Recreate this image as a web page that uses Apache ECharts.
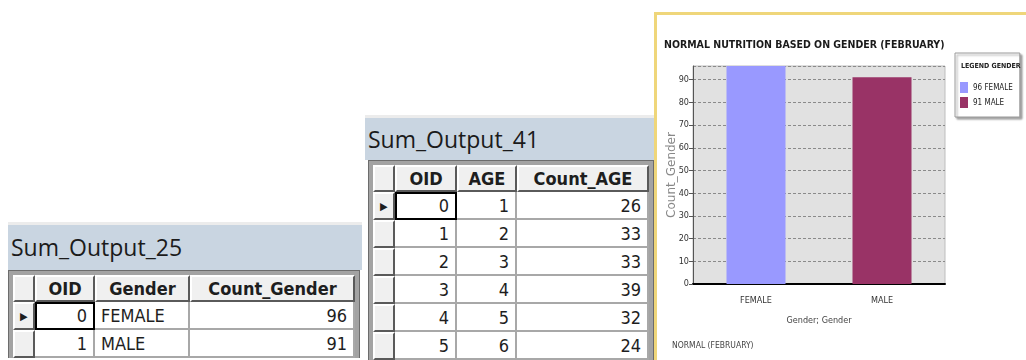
<!DOCTYPE html>
<html>
<head>
<meta charset="utf-8">
<script src="https://cdn.jsdelivr.net/npm/echarts@6/dist/echarts.min.js"></script>
<style>
html, body { margin: 0; padding: 0; width: 1026px; height: 360px; overflow: hidden; background: #fff; }
.tbl { position: absolute; }
.tbl .cap { background: #c9d5e1; border-top: 3px solid #ececec; color: #1b1b1b; font-family: 'Open Sans', sans-serif; font-size: 23px; padding-left: 3px; box-sizing: border-box; white-space: nowrap; }
.tbl .frame { background: #a3a3a3; border: 1px solid #6c6c6c; border-bottom: none; padding: 4px 4px 0 4px; display: inline-block; }
.tbl table { border-collapse: separate; border-spacing: 0; table-layout: fixed; background: #fff; }
.tbl th, .tbl td { font-family: 'DejaVu Sans Condensed', sans-serif; font-size: 18px; color: #1e1e1e; padding: 0 6px; box-sizing: border-box; white-space: nowrap; overflow: hidden; }
.tbl th { background: #f0f0f0; font-weight: bold; text-align: center; border-top: 2px solid #fff; border-left: 2px solid #fff; border-right: 2px solid #5a5a5a; border-bottom: 2px solid #5a5a5a; }
.tbl td { text-align: right; border-right: 2px solid #a8a8a8; border-bottom: 2px solid #a8a8a8; }
.tbl .sel { background: #f0f0f0; border-top: 2px solid #fff; border-left: 2px solid #fff; border-right: 2px solid #5a5a5a; border-bottom: 2px solid #5a5a5a; text-align: left; padding: 0 0 0 5px; font-size: 11px; }
.tbl td.txt { text-align: left; }
.tbl td.cur { outline: 2px solid #000; outline-offset: -2px; }
.tbl tr.h { height: 27px; }
.tbl tr.r { height: 28px; }
#chart { position: absolute; left: 654px; top: 12px; width: 369px; height: 345px; border-left: 3px solid #efd67a; border-top: 3px solid #efd67a; background: #fff; }
</style>
</head>
<body>
<div id="t25" class="tbl" style="left:8px; top:222px;"></div>
<div id="t41" class="tbl" style="left:365px; top:115px;"></div>
<div id="chart"></div>
<script>
// table Sum_Output_25
var genderOids = [0, 1];
var genderCats = ['FEMALE', 'MALE'];
var genderCounts = [96, 91];

// table Sum_Output_41
var ageOids = [0, 1, 2, 3, 4, 5];
var ages = [1, 2, 3, 4, 5, 6];
var ageCounts = [26, 33, 33, 39, 32, 24];

var barColors = ['#9999ff', '#993366'];

function buildTable(el, caption, capWidth, capHeight, heads, widths, cols, textCol) {
    var html = '<div class="cap" style="width:' + capWidth + 'px;height:' + (capHeight + 3) + 'px;line-height:' + capHeight + 'px">' + caption + '</div>';
    html += '<div class="frame"><table style="width:' + widths.reduce(function (a, b) { return a + b; }, 0) + 'px">';
    html += '<colgroup>' + widths.map(function (w) { return '<col style="width:' + w + 'px">'; }).join('') + '</colgroup>';
    html += '<tr class="h"><th class="sel"></th>' + heads.map(function (h) { return '<th>' + h + '</th>'; }).join('') + '</tr>';
    for (var i = 0; i < cols[0].length; i++) {
        html += '<tr class="r"><td class="sel">' + (i === 0 ? '&#9654;' : '') + '</td>';
        for (var c = 0; c < cols.length; c++) {
            var cls = [];
            if (c === textCol) cls.push('txt');
            if (i === 0 && c === 0) cls.push('cur');
            html += '<td class="' + cls.join(' ') + '">' + cols[c][i] + '</td>';
        }
        html += '</tr>';
    }
    html += '</table></div>';
    el.innerHTML = html;
}

buildTable(document.getElementById('t25'), 'Sum_Output_25', 354, 45,
    ['OID', 'Gender', 'Count_Gender'], [22, 60, 95, 165],
    [genderOids, genderCats, genderCounts], 1);
buildTable(document.getElementById('t41'), 'Sum_Output_41', 292, 42,
    ['OID', 'AGE', 'Count_AGE'], [22, 62, 60, 132],
    [ageOids, ages, ageCounts], -1);
document.querySelector('#t41 .frame').style.marginLeft = '3px';

var narrow = "'DejaVu Sans Condensed', sans-serif";
var chart = echarts.init(document.getElementById('chart'));

var series = genderCats.map(function (name, i) {
    return {
        name: name,
        type: 'bar',
        stack: 'gender',
        barWidth: 59,
        itemStyle: { color: barColors[i] },
        data: genderCounts.map(function (v, j) { return j === i ? v : '-'; })
    };
});

var option = {
    animation: false,
    title: [{
        text: 'NORMAL NUTRITION BASED ON GENDER (FEBRUARY)',
        left: 7,
        top: 25,
        padding: 0,
        textStyle: { fontFamily: narrow, fontSize: 10.5, fontWeight: 'bold', color: '#1a1a1a' }
    }, {
        text: 'LEGEND GENDER',
        left: 304,
        top: 48,
        padding: 0,
        textStyle: { fontFamily: narrow, fontSize: 7, fontWeight: 'bold', color: '#222' }
    }, {
        text: 'NORMAL (FEBRUARY)',
        left: 15,
        top: 326,
        padding: 0,
        textStyle: { fontFamily: narrow, fontSize: 8.5, fontWeight: 'normal', color: '#444' }
    }],
    legend: {
        orient: 'vertical',
        left: 298,
        top: 38,
        padding: [29, 7, 9, 5],
        itemWidth: 8,
        itemHeight: 11,
        itemGap: 4,
        icon: 'rect',
        selectedMode: false,
        borderColor: '#9a9a9a',
        borderWidth: 1,
        backgroundColor: '#fff',
        shadowColor: 'rgba(0,0,0,0.35)',
        shadowBlur: 2,
        shadowOffsetX: 2,
        shadowOffsetY: 2,
        data: genderCats,
        formatter: function (name) {
            return genderCounts[genderCats.indexOf(name)] + ' ' + name;
        },
        textStyle: { fontFamily: narrow, fontSize: 8, color: '#222' }
    },
    grid: {
        left: 36,
        top: 51,
        right: 81,
        bottom: 76,
        outerBoundsMode: 'none',
        show: true,
        backgroundColor: '#e1e1e1',
        borderColor: '#bdbdbd',
        borderWidth: 1
    },
    xAxis: {
        type: 'category',
        data: genderCats,
        name: 'Gender; Gender',
        nameLocation: 'middle',
        nameGap: 32,
        nameMoveOverlap: false,
        nameTextStyle: { fontFamily: narrow, fontSize: 9, color: '#444' },
        axisLine: { lineStyle: { color: '#000', width: 2 } },
        axisTick: { alignWithLabel: true, length: 4, lineStyle: { color: '#555' } },
        axisLabel: { fontFamily: narrow, fontSize: 9, color: '#333', margin: 12 },
        splitLine: { show: false }
    },
    yAxis: {
        type: 'value',
        min: 0,
        max: 96,
        interval: 10,
        name: 'Count_Gender',
        nameLocation: 'middle',
        nameRotate: 90,
        nameGap: 15,
        nameMoveOverlap: false,
        nameTextStyle: { fontFamily: 'DejaVu Sans', fontSize: 12, color: '#888' },
        axisLine: { show: true, lineStyle: { color: '#555', width: 1 } },
        axisTick: { show: true, length: 4, lineStyle: { color: '#555' } },
        axisLabel: { fontFamily: narrow, fontSize: 9, color: '#333', margin: 4, showMaxLabel: false },
        splitLine: { lineStyle: { color: '#8a8a8a', type: [3, 2], width: 1 } }
    },
    series: series
};
chart.setOption(option);
</script>
</body>
</html>
